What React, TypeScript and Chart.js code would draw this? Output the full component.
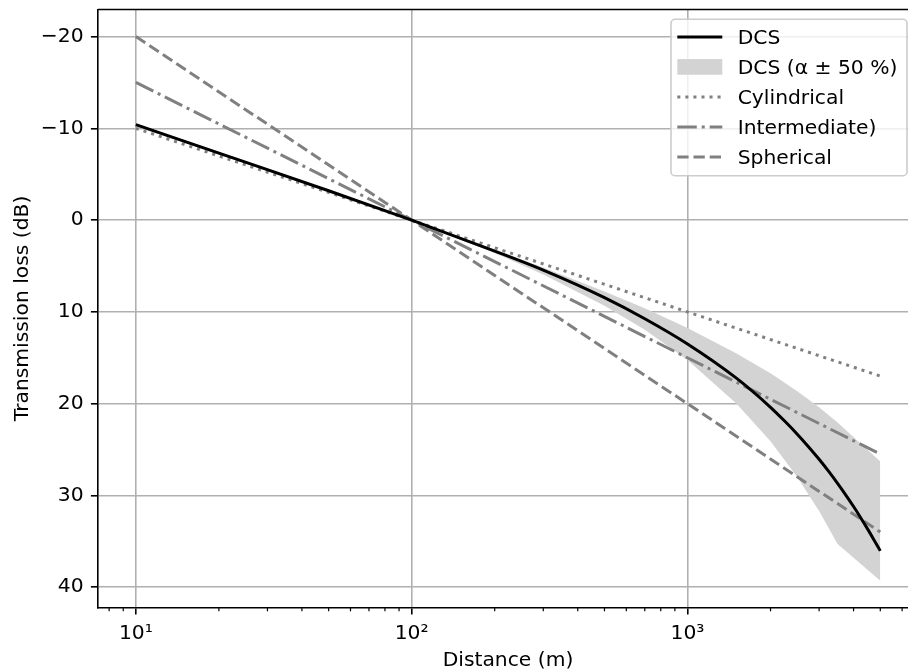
import React, { useEffect, useRef } from 'react';
import { Chart, registerables } from 'chart.js';

Chart.register(...registerables);

// ---------- data ----------
const distances = [10, 20, 50, 100, 200, 300, 500, 700, 1000, 1500, 2000, 2250, 2500, 2750, 3000, 3250, 3500, 3750, 4000, 4250, 4500, 4750, 5000];
const dcsLoss = [-10.4, -7.3, -3.2, 0, 3.38, 5.45, 8.45, 10.75, 13.5, 17.2, 20.4, 21.9, 23.33, 24.72, 26.07, 27.39, 28.69, 29.97, 31.22, 32.46, 33.68, 34.88, 36.05];

const bandDistances = [10, 20, 50, 100, 200, 300, 500, 700, 1000, 1500, 2000, 2500, 3000, 3500, 5000];
const bandLow = [-10.2, -7.15, -3.1, 0, 3.2, 5.16, 7.77, 9.62, 11.75, 14.5, 16.7, 18.66, 20.4, 22.07, 26.3];
const bandHigh = [-10.5, -7.45, -3.3, 0, 3.6, 5.94, 9.33, 11.96, 15.25, 19.95, 24.1, 28.0, 31.7, 35.3, 39.3];

const refDistances = [10, 5000];
const cylindrical = [-10, 17];
const intermediate = [-15, 25.5];
const spherical = [-20, 34];

const xTickLabels: Record<number, string> = { 1: '10\u00B9', 2: '10\u00B2', 3: '10\u00B3' };
const xMin = 7.29;
const xMax = 6850;
const yMin = -22.95;
const yMax = 42.2;
const yStep = 10;

// ---------- styles ----------
const FONT_FAMILY = 'DejaVu Sans';
const FONT_SIZE = 20.3;
const GRAY = '#808080';
const BAND = '#d3d3d3';
const GRID = '#b0b0b0';
const LW = 3.0;
const AXW = 1.6;
const TICKLEN = 7.1;
const DOTTED = [3.05, 5.0];
const DASHDOT = [19.5, 4.9, 3.05, 4.9];
const DASHED = [11.3, 4.9];

const pts = (xs: number[], ys: number[]) => xs.map((x, i) => ({ x, y: ys[i] }));

const isDecade = (v: number) => {
  const l = Math.log10(v);
  return Math.abs(l - Math.round(l)) < 1e-9;
};

const framePlugin = {
  id: 'frameAndMinorTicks',
  afterDraw(chart: any) {
    const { ctx, chartArea: a } = chart;
    ctx.save();
    ctx.strokeStyle = '#000';
    ctx.lineWidth = AXW;
    ctx.beginPath();
    ctx.moveTo(a.left, a.top);
    ctx.lineTo(a.right, a.top);
    ctx.lineTo(a.right, a.bottom);
    ctx.stroke();
    const xs = chart.scales.x;
    ctx.lineWidth = 1.2;
    for (const t of xs.ticks) {
      const v = t.value;
      if (v <= xs.min || v >= xs.max || isDecade(v)) continue;
      const sig = v / Math.pow(10, Math.floor(Math.log10(v)));
      if (Math.abs(sig - Math.round(sig)) > 1e-6) continue;
      const px = xs.getPixelForValue(v);
      ctx.beginPath();
      ctx.moveTo(px, a.bottom);
      ctx.lineTo(px, a.bottom + 4.0);
      ctx.stroke();
    }
    ctx.restore();
  },
};

const legendPlugin = {
  id: 'insideLegend',
  afterDraw(chart: any) {
    const { ctx, chartArea: a } = chart;
    const items = chart.data.datasets
      .filter((d: any) => d.legendRank !== undefined)
      .sort((p: any, q: any) => p.legendRank - q.legendRank);
    const w = 236;
    const h = 156.4;
    const right = a.right - 11;
    const top = a.top + 9.8;
    const left = right - w;
    ctx.save();
    ctx.beginPath();
    if (ctx.roundRect) ctx.roundRect(left, top, w, h, 4);
    else ctx.rect(left, top, w, h);
    ctx.fillStyle = 'rgba(255,255,255,0.8)';
    ctx.fill();
    ctx.strokeStyle = '#cccccc';
    ctx.lineWidth = AXW;
    ctx.stroke();
    const rowH = 30;
    items.forEach((d: any, i: number) => {
      const cy = top + 17.6 + i * rowH;
      const hx0 = left + 6.3;
      const hx1 = left + 51.3;
      if (d.fill) {
        ctx.fillStyle = d.backgroundColor;
        ctx.fillRect(hx0, cy - 7.85, hx1 - hx0, 15.7);
      } else {
        ctx.setLineDash(d.borderDash || []);
        ctx.strokeStyle = d.borderColor;
        ctx.lineWidth = d.borderWidth;
        ctx.lineCap = 'butt';
        ctx.beginPath();
        ctx.moveTo(hx0, cy);
        ctx.lineTo(hx1, cy);
        ctx.stroke();
        ctx.setLineDash([]);
      }
      ctx.fillStyle = '#000';
      ctx.font = `${FONT_SIZE}px "${FONT_FAMILY}"`;
      ctx.textBaseline = 'middle';
      ctx.textAlign = 'left';
      ctx.fillText(d.label, left + 66.7, cy + 2);
    });
    ctx.restore();
  },
};

export default function App() {
  const canvasRef = useRef<HTMLCanvasElement | null>(null);

  useEffect(() => {
    if (!canvasRef.current) return;
    Chart.defaults.font.family = FONT_FAMILY;
    Chart.defaults.font.size = FONT_SIZE;
    Chart.defaults.color = '#000';

    const chart = new Chart(canvasRef.current, {
      type: 'line',
      data: {
        datasets: [
          {
            label: 'DCS',
            data: pts(distances, dcsLoss),
            borderColor: '#000',
            borderWidth: LW,
            pointRadius: 0,
            cubicInterpolationMode: 'monotone',
            fill: false,
            order: 0,
            legendRank: 0,
          } as any,
          {
            label: 'Cylindrical',
            data: pts(refDistances, cylindrical),
            borderColor: GRAY,
            borderWidth: LW,
            borderDash: DOTTED,
            pointRadius: 0,
            fill: false,
            order: 1,
            legendRank: 2,
          },
          {
            label: 'Intermediate)',
            data: pts(refDistances, intermediate),
            borderColor: GRAY,
            borderWidth: LW,
            borderDash: DASHDOT,
            pointRadius: 0,
            fill: false,
            order: 2,
            legendRank: 3,
          },
          {
            label: 'Spherical',
            data: pts(refDistances, spherical),
            borderColor: GRAY,
            borderWidth: LW,
            borderDash: DASHED,
            pointRadius: 0,
            fill: false,
            order: 3,
            legendRank: 4,
          },
          {
            label: 'DCS (\u03B1 \u00B1 50 %)',
            data: pts(bandDistances, bandHigh),
            borderColor: 'rgba(0,0,0,0)',
            borderWidth: 1,
            backgroundColor: BAND,
            pointRadius: 0,
            fill: '+1',
            order: 4,
            legendRank: 1,
          },
          {
            label: '',
            data: pts(bandDistances, bandLow),
            borderColor: 'rgba(0,0,0,0)',
            borderWidth: 1,
            backgroundColor: BAND,
            pointRadius: 0,
            fill: false,
            order: 5,
          },
        ] as any,
      },
      options: {
        responsive: false,
        animation: false,
        events: [],
        layout: { padding: { top: 9.5, right: 2, left: 0, bottom: 0 } },
        plugins: {
          legend: { display: false },
          tooltip: { enabled: false },
        },
        scales: {
          x: {
            type: 'logarithmic',
            position: 'bottom',
            min: xMin,
            max: xMax,
            border: { display: true, color: '#000', width: AXW },
            grid: {
              color: (c: any) => (c.tick && isDecade(c.tick.value) ? GRID : 'rgba(0,0,0,0)'),
              lineWidth: AXW,
              drawTicks: true,
              tickLength: TICKLEN,
              tickWidth: AXW,
              tickColor: (c: any) => (c.tick && isDecade(c.tick.value) ? '#000' : 'rgba(0,0,0,0)'),
            },
            ticks: {
              autoSkip: false,
              maxRotation: 0,
              minRotation: 0,
              padding: 6.7,
              color: '#000',
              font: { family: FONT_FAMILY, size: FONT_SIZE },
              callback: (v: any) => {
                const n = Number(v);
                if (!isDecade(n)) return '';
                return xTickLabels[Math.round(Math.log10(n))] ?? '';
              },
            },
            title: {
              display: true,
              text: 'Distance (m)',
              color: '#000',
              font: { family: FONT_FAMILY, size: FONT_SIZE },
              padding: { top: 0, bottom: -1.4 },
            },
            afterFit: (s: any) => {
              s.height = 64.7;
              s.paddingLeft = 0;
              s.paddingRight = 0;
            },
          } as any,
          y: {
            type: 'linear',
            position: 'left',
            reverse: true,
            min: yMin,
            max: yMax,
            border: { display: true, color: '#000', width: AXW },
            grid: {
              color: GRID,
              lineWidth: AXW,
              drawTicks: true,
              tickLength: TICKLEN,
              tickWidth: AXW,
              tickColor: '#000',
            },
            ticks: {
              stepSize: yStep,
              includeBounds: false,
              padding: 7.3,
              color: '#000',
              font: { family: FONT_FAMILY, size: FONT_SIZE },
              callback: (v: any) => {
                const n = Number(v);
                return n < 0 ? '\u2212' + Math.abs(n) : String(n);
              },
            },
            title: {
              display: true,
              text: 'Transmission loss (dB)',
              color: '#000',
              font: { family: FONT_FAMILY, size: FONT_SIZE },
              padding: { top: 10.9, bottom: 0 },
            },
            afterFit: (s: any) => {
              s.width = 98;
              s.paddingTop = 0;
              s.paddingBottom = 0;
            },
          } as any,
        },
      },
      plugins: [framePlugin, legendPlugin],
    } as any);

    return () => chart.destroy();
  }, []);

  return (
    <div
      style={{
        position: 'fixed',
        left: 0,
        top: 0,
        width: 908,
        height: 672,
        overflow: 'hidden',
        background: '#fff',
      }}
    >
      <canvas ref={canvasRef} width={920} height={672} style={{ display: 'block', width: 920, height: 672 }} />
    </div>
  );
}
